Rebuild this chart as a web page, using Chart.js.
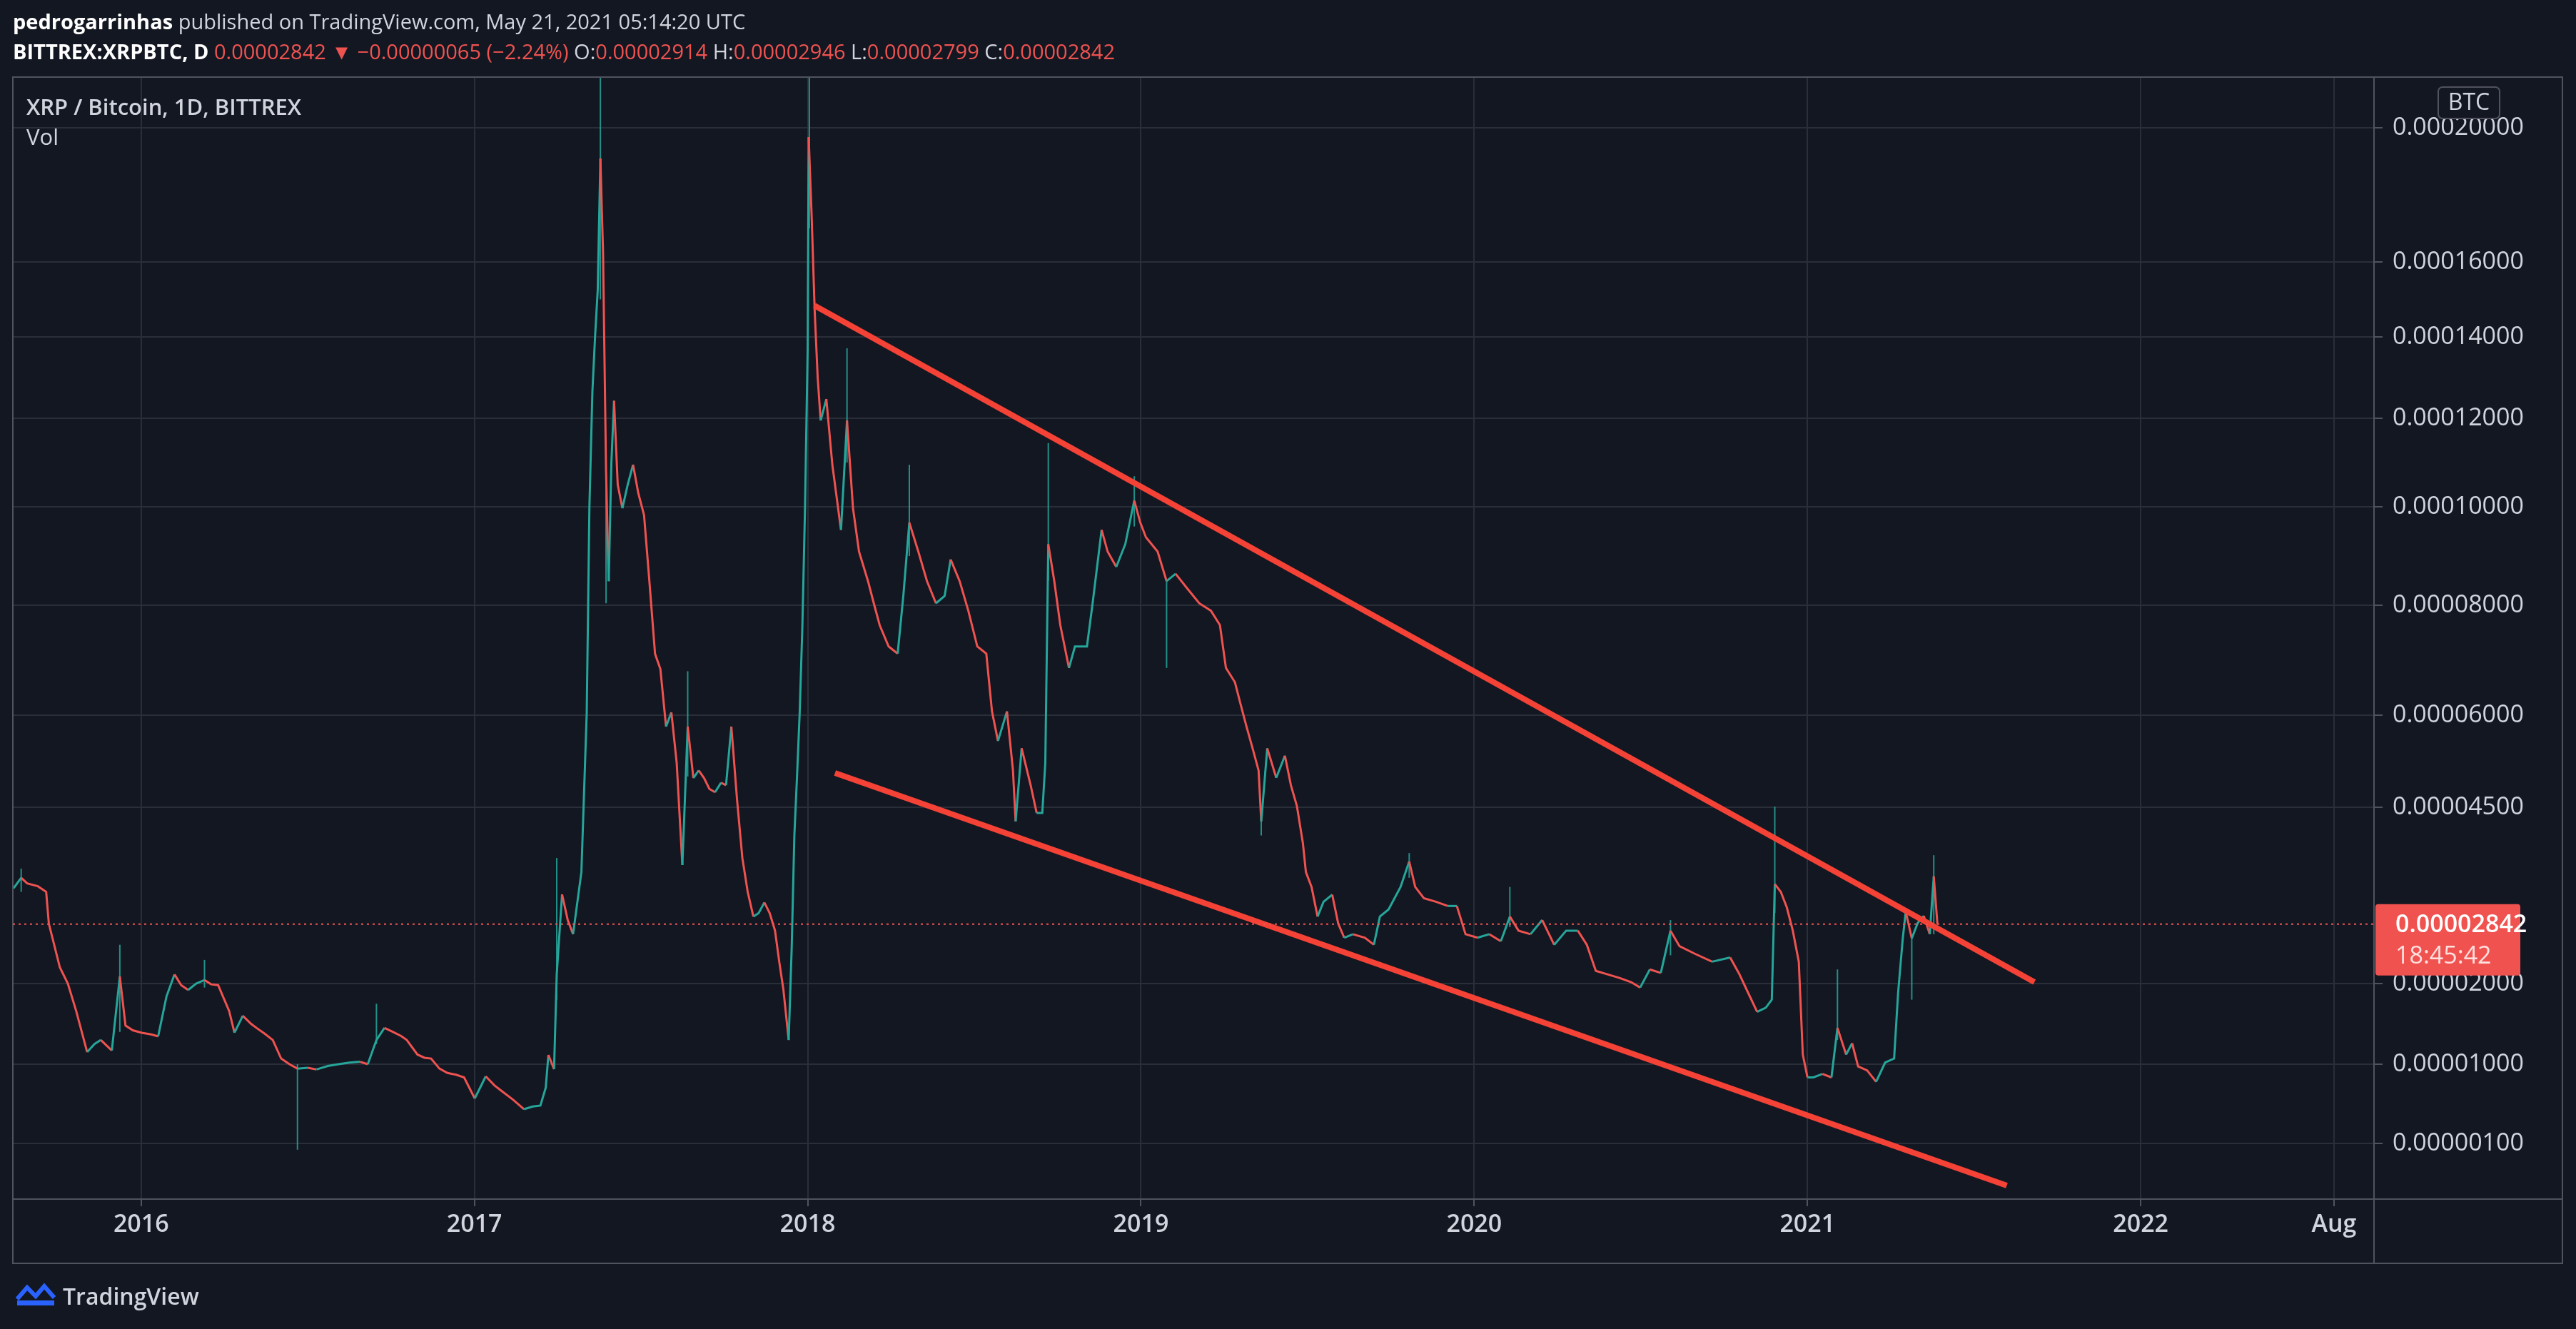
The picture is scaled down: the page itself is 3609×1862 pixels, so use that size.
<!DOCTYPE html>
<html><head><meta charset="utf-8">
<script src="https://cdn.jsdelivr.net/npm/chart.js@4.4.0/dist/chart.umd.min.js"></script>
<style>
html,body{margin:0;padding:0;background:#131722;overflow:hidden}
#wrap{position:relative;width:3609px;height:1862px}
canvas{position:absolute;left:0;top:0}
.t{position:absolute;font-family:"Open Sans",sans-serif;color:#d1d4dc;white-space:nowrap}
.r{color:#ef5350}
</style></head><body>
<div id="wrap">
<canvas id="c" width="3609" height="1862"></canvas>
<div class="t" style="left:18px;top:10px;font-size:29px"><b style="color:#fff">pedrogarrinhas</b> published on TradingView.com, May 21, 2021 05:14:20 UTC</div>
<div class="t" style="left:18px;top:52px;font-size:29px"><b style="color:#fff">BITTREX:XRPBTC, D</b> <span class="r">0.00002842 ▼ −0.00000065 (−2.24%)</span> O:<span class="r">0.00002914</span> H:<span class="r">0.00002946</span> L:<span class="r">0.00002799</span> C:<span class="r">0.00002842</span></div>
<div class="t" style="left:37px;top:128px;font-size:31px;font-weight:600">XRP / Bitcoin, 1D, BITTREX</div>
<div class="t" style="left:37px;top:170px;font-size:31px">Vol</div>
<div class="t" style="left:88px;top:1794px;font-size:32px;font-weight:600">TradingView</div>
<svg style="position:absolute;left:22px;top:1798px" width="56" height="34" viewBox="0 0 56 34"><path d="M2 22 L16 6 L28 18 L40 4 L54 20" stroke="#2962ff" stroke-width="6" fill="none"/><rect x="2" y="24" width="52" height="7" fill="#2962ff"/></svg>
</div>
<script>
const AXIS_PRICES = [0, 100, 1000, 2000, 4500, 6000, 8000, 10000, 12000, 14000, 16000, 20000, 22000];
const AXIS_U      = [0, 88, 199, 312, 559, 688, 842, 980, 1104, 1218, 1323, 1511, 1605];
const Y_TICKS = [100, 1000, 2000, 4500, 6000, 8000, 10000, 12000, 14000, 16000, 20000];
const X_TICKS = [2016, 2017, 2018, 2019, 2020, 2021, 2022, 2022.58];
const X_LABELS = ['2016','2017','2018','2019','2020','2021','2022','Aug'];

const T = [2015.617,2015.640,2015.658,2015.690,2015.715,2015.723,2015.756,2015.780,2015.805,2015.838,2015.860,2015.879,2015.912,2015.936,2015.953,2015.975,2016.002,2016.030,2016.051,2016.076,2016.100,2016.120,2016.141,2016.165,2016.190,2016.210,2016.231,2016.264,2016.280,2016.305,2016.330,2016.346,2016.370,2016.395,2016.420,2016.445,2016.469,2016.500,2016.526,2016.560,2016.592,2016.625,2016.657,2016.680,2016.706,2016.730,2016.756,2016.780,2016.797,2016.829,2016.850,2016.870,2016.895,2016.919,2016.945,2016.969,2017.001,2017.034,2017.060,2017.083,2017.115,2017.149,2017.175,2017.198,2017.214,2017.222,2017.239,2017.247,2017.263,2017.280,2017.296,2017.321,2017.337,2017.345,2017.354,2017.362,2017.370,2017.378,2017.386,2017.395,2017.403,2017.411,2017.419,2017.430,2017.444,2017.460,2017.476,2017.492,2017.509,2017.525,2017.542,2017.558,2017.575,2017.591,2017.607,2017.624,2017.640,2017.657,2017.673,2017.689,2017.705,2017.722,2017.740,2017.755,2017.771,2017.788,2017.804,2017.820,2017.837,2017.853,2017.870,2017.886,2017.902,2017.915,2017.927,2017.943,2017.952,2017.960,2017.968,2017.976,2017.984,2017.992,2018.000,2018.003,2018.012,2018.021,2018.030,2018.039,2018.056,2018.074,2018.100,2018.118,2018.136,2018.154,2018.181,2018.200,2018.216,2018.243,2018.270,2018.287,2018.305,2018.332,2018.358,2018.385,2018.411,2018.429,2018.456,2018.482,2018.509,2018.536,2018.553,2018.571,2018.598,2018.616,2018.624,2018.642,2018.669,2018.687,2018.704,2018.713,2018.722,2018.740,2018.758,2018.784,2018.802,2018.838,2018.855,2018.882,2018.900,2018.926,2018.953,2018.980,2018.998,2019.015,2019.050,2019.077,2019.104,2019.139,2019.175,2019.210,2019.237,2019.255,2019.282,2019.299,2019.317,2019.335,2019.353,2019.361,2019.379,2019.406,2019.432,2019.450,2019.468,2019.486,2019.495,2019.512,2019.530,2019.548,2019.574,2019.592,2019.610,2019.636,2019.672,2019.699,2019.717,2019.743,2019.779,2019.805,2019.823,2019.849,2019.885,2019.921,2019.948,2019.974,2020.010,2020.045,2020.080,2020.107,2020.133,2020.169,2020.204,2020.240,2020.276,2020.311,2020.338,2020.365,2020.400,2020.436,2020.471,2020.498,2020.527,2020.560,2020.589,2020.616,2020.661,2020.714,2020.768,2020.795,2020.822,2020.849,2020.875,2020.893,2020.902,2020.920,2020.938,2020.956,2020.974,2020.986,2021.000,2021.018,2021.045,2021.072,2021.090,2021.116,2021.134,2021.152,2021.179,2021.206,2021.233,2021.260,2021.272,2021.286,2021.295,2021.313,2021.331,2021.349,2021.367,2021.379,2021.390];
const C = [3350,3500,3420,3380,3300,2850,2230,2000,1660,1150,1250,1300,1170,2100,1480,1420,1390,1370,1345,1840,2130,1980,1920,2000,2050,1990,1980,1660,1390,1600,1500,1450,1380,1300,1070,1000,950,960,940,980,1000,1020,1030,1000,1300,1450,1400,1350,1300,1120,1080,1070,950,900,880,850,611,862,760,692,600,489,520,530,733,1115,943,2130,3265,2900,2700,3580,6040,9975,12650,14000,15250,19085,16260,10800,8490,11000,12430,10500,9970,10500,10950,10300,9830,8490,7116,6840,5814,6050,5220,3680,5814,4976,5100,4976,4800,4744,4900,4860,5814,4628,3780,3300,2950,3000,3150,3000,2750,2300,1930,1300,2500,4095,5000,6040,7600,9975,13720,19720,17340,14700,13000,11950,12470,10950,9530,11950,9970,9090,8490,8000,7640,7250,7120,8190,9680,9090,8490,8040,8190,8930,8490,7900,7250,7120,6070,5580,6070,5100,4300,5460,4860,4420,4420,5220,9240,8490,7640,6860,7250,7250,8040,9530,9090,8780,9240,10140,9680,9380,9090,8490,8640,8340,8040,7900,7640,6860,6600,6200,5810,5460,5100,4300,5460,4980,5340,4860,4520,3990,3580,3370,2950,3160,3260,2850,2650,2700,2650,2550,2950,3050,3370,3730,3370,3210,3160,3100,3100,2700,2650,2700,2600,2950,2750,2700,2900,2550,2750,2750,2550,2180,2130,2080,2020,1950,2200,2150,2750,2530,2425,2310,2370,2140,1885,1650,1700,1800,3410,3300,3080,2750,2310,1120,850,850,890,850,1450,1120,1260,975,930,800,1020,1070,1885,2640,3020,2640,2860,2960,2700,3520,2842];

const WT = [2015.640,2015.936,2016.190,2016.469,2016.706,2017.247,2017.378,2017.395,2017.640,2018.005,2018.118,2018.305,2018.722,2018.980,2019.077,2019.361,2019.805,2020.107,2020.589,2020.902,2021.090,2021.313,2021.379];
const WL = [3300,1400,1950,90,1250,1800,15000,8040,5000,17000,11000,9000,8500,9600,6860,4100,3500,2800,2400,3000,1300,1800,2700];
const WH = [3630,2550,2335,1000,1750,3780,21500,10800,6800,22000,13720,10950,11440,10690,8490,4300,3850,3370,2900,4510,2200,2640,3820];

const UPPER_T = [2018.020, 2021.681], UPPER_P = [14838, 2020];
const LOWER_T = [2018.082, 2021.598], LOWER_P = [5058, 33];
const LAST_PRICE = 2842;

function pToU(p){
  for(let i=1;i<AXIS_PRICES.length;i++){
    if(p<=AXIS_PRICES[i]||i===AXIS_PRICES.length-1){
      const a=AXIS_PRICES[i-1],b=AXIS_PRICES[i];
      return AXIS_U[i-1]+(p-a)/(b-a)*(AXIS_U[i]-AXIS_U[i-1]);
    }
  }
}
const UP='#26a69a', DN='#ef5350', LINE='#f44336';
const closePts = T.map((t,i)=>({x:t,y:pToU(C[i])}));
const wickPts = [];
WT.forEach((t,i)=>{wickPts.push({x:t,y:pToU(WL[i])},{x:t,y:pToU(WH[i])},{x:t,y:NaN});});
const yLabelMap = {}; Y_TICKS.forEach(p=>{yLabelMap[pToU(p).toFixed(3)]=(p*1e-8).toFixed(8);});

const deco = {
  id:'deco',
  afterDraw(ch){
    const g=ch.ctx, a=ch.chartArea, y=ch.scales.y;
    g.save();
    g.strokeStyle='#50535e'; g.lineWidth=2;
    g.strokeRect(18,108,3590-18,1770-108);
    g.beginPath(); g.moveTo(a.right,108); g.lineTo(a.right,1770);
    g.moveTo(18,a.bottom); g.lineTo(3590,a.bottom); g.stroke();
    const yp=y.getPixelForValue(pToU(LAST_PRICE));
    g.strokeStyle=DN; g.lineWidth=2; g.setLineDash([3,5]);
    g.beginPath(); g.moveTo(a.left,yp); g.lineTo(a.right,yp); g.stroke(); g.setLineDash([]);
    g.fillStyle='#f0524f';
    g.beginPath(); g.roundRect(a.right+2,yp-28,203,100,4); g.fill();
    g.fillStyle='#fff'; g.font='600 34px "Open Sans"'; g.textBaseline='middle';
    g.fillText('0.00002842',a.right+30,yp+2);
    g.fillStyle='#ffe0de'; g.font='34px "Open Sans"';
    g.fillText('18:45:42',a.right+30,yp+46);
    g.fillStyle='#131722'; g.strokeStyle='#50535e'; g.lineWidth=2;
    g.beginPath(); g.roundRect(3416,122,86,44,6); g.fill(); g.stroke();
    g.fillStyle='#d1d4dc'; g.font='32px "Open Sans"'; g.textAlign='center';
    g.fillText('BTC',3459,145);
    g.restore();
  }
};

new Chart(document.getElementById('c'),{
  data:{datasets:[
    {type:'line',data:wickPts,borderWidth:2,pointRadius:0,spanGaps:false,
     segment:{borderColor:c=>c.p1.parsed.y>=c.p0.parsed.y?'rgba(38,166,154,0.85)':'rgba(239,83,80,0.85)'},borderColor:UP,order:3},
    {type:'line',data:closePts,borderWidth:3,pointRadius:0,tension:0,
     segment:{borderColor:c=>c.p1.parsed.y>=c.p0.parsed.y?UP:DN},borderColor:UP,order:2},
    {type:'line',data:UPPER_T.map((t,i)=>({x:t,y:pToU(UPPER_P[i])})),borderColor:LINE,borderWidth:8,pointRadius:0,order:1},
    {type:'line',data:LOWER_T.map((t,i)=>({x:t,y:pToU(LOWER_P[i])})),borderColor:LINE,borderWidth:8,pointRadius:0,order:1}
  ]},
  options:{
    responsive:false, devicePixelRatio:1, animation:false,
    layout:{padding:{left:18,top:108,right:0,bottom:92}},
    plugins:{legend:{display:false},tooltip:{enabled:false}},
    scales:{
      x:{type:'linear',min:2015.615,max:2022.70,
        afterBuildTicks:s=>{s.ticks=X_TICKS.map(v=>({value:v}));},
        afterFit:s=>{s.height=90;},
        grid:{color:'#2a2e39',lineWidth:2,tickLength:10,tickColor:'#50535e'},
        border:{display:false},
        ticks:{color:'#d1d4dc',font:{family:'Open Sans',size:34,weight:'600'},padding:6,maxRotation:0,autoSkip:false,
          callback:(v)=>{const i=X_TICKS.indexOf(v);return i>=0?X_LABELS[i]:'';}}},
      y:{type:'linear',position:'right',min:10,max:1582,
        afterBuildTicks:s=>{s.ticks=Y_TICKS.map(p=>({value:pToU(p)}));},
        afterFit:s=>{s.width=283;},
        grid:{color:'#2a2e39',lineWidth:2,tickLength:12,tickColor:'#50535e'},
        border:{display:false},
        ticks:{color:'#d1d4dc',font:{family:'Open Sans',size:34},padding:14,autoSkip:false,
          callback:(v)=>yLabelMap[Number(v).toFixed(3)]||''}}
    }
  },
  plugins:[deco]
});
</script>
</body></html>
